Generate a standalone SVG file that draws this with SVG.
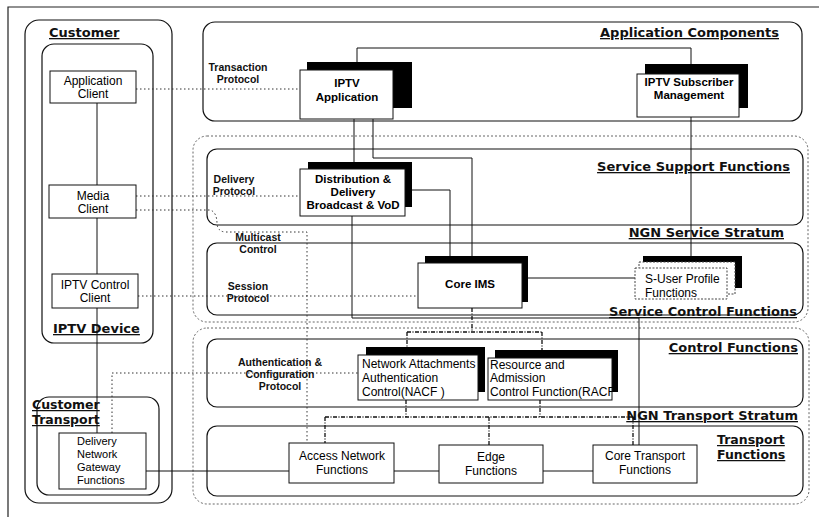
<svg xmlns="http://www.w3.org/2000/svg" width="819" height="517" viewBox="0 0 819 517">
<style>
.region{fill:none;stroke:#111;stroke-width:1.2}
.stratum{fill:none;stroke:#666;stroke-width:1;stroke-dasharray:2 2}
.title{font-family:"DejaVu Sans",Verdana,sans-serif;font-weight:bold;font-size:13px;text-decoration:underline;fill:#111}
.lbl{font-family:"Liberation Sans",Arial,sans-serif;font-weight:bold;font-size:10.5px;text-anchor:middle;fill:#111}
.box{fill:#fff;stroke:#111;stroke-width:1}
.dbox{fill:#fff;stroke:#444;stroke-width:1;stroke-dasharray:2 1.5}
.shadow{fill:#000}
.nb{font-family:"Liberation Sans",Arial,sans-serif;font-weight:bold;font-size:11.5px;text-anchor:middle;fill:#000}
.nt{font-family:"Liberation Sans",Arial,sans-serif;font-size:12px;fill:#000}
.c{text-anchor:middle}
.solid{fill:none;stroke:#111;stroke-width:1}
.dot{fill:none;stroke:#333;stroke-width:1;stroke-dasharray:1.5 2.5}
.ctl{fill:none;stroke:#111;stroke-width:1.3;stroke-dasharray:4 1.5 1 1.5}
</style>

<g id="frame">
  <path d="M8,517 V7 H819" fill="none" stroke="#222" stroke-width="1.2"/>
</g>

<g id="regions">
  <rect id="customer" class="region" x="25" y="20" width="147" height="483" rx="14"/>
  <text class="title" x="49" y="37">Customer</text>
  <rect id="iptv-device" class="region" x="42" y="44" width="111" height="299" rx="12"/>
  <text class="title" x="53" y="333">IPTV Device</text>
  <rect id="customer-transport" class="region" x="37" y="397" width="122" height="98" rx="12"/>
  <text class="title" x="32" y="409" style="font-size:12.5px">Customer</text>
  <text class="title" x="32" y="424" style="font-size:12.5px">Transport</text>

  <rect id="application-components" class="region" x="203" y="22" width="599" height="99" rx="12"/>
  <text class="title" x="779" y="37" text-anchor="end">Application Components</text>

  <rect id="ngn-service-stratum" class="stratum" x="193" y="136" width="615" height="186" rx="14"/>
  <rect id="service-support" class="region" x="207" y="149" width="596" height="76" rx="10"/>
  <text class="title" x="790" y="171" text-anchor="end">Service Support Functions</text>
  <text class="title" x="784" y="237" text-anchor="end">NGN Service Stratum</text>
  <rect id="service-control" class="region" x="207" y="243" width="596" height="72" rx="10"/>
  <text class="title" x="797" y="316" text-anchor="end">Service Control Functions</text>

  <rect id="ngn-transport-stratum" class="stratum" x="193" y="328" width="616" height="176" rx="14"/>
  <rect id="control-functions" class="region" x="207" y="339" width="596" height="68" rx="10"/>
  <text class="title" x="798" y="352" text-anchor="end">Control Functions</text>
  <text class="title" x="798" y="420" text-anchor="end">NGN Transport Stratum</text>
  <rect id="transport-functions" class="region" x="207" y="426" width="596" height="70" rx="10"/>
  <text class="title" x="717" y="444" style="font-size:12.5px">Transport</text>
  <text class="title" x="717" y="459" style="font-size:12.5px">Functions</text>
</g>

<g id="connectors">
  <path class="solid" d="M97,103 V185"/>
  <path class="solid" d="M97,218 V274"/>
  <path class="solid" d="M97,308 V433"/>
  <path class="solid" d="M146,471 H289"/>
  <path class="solid" d="M394,471 H439"/>
  <path class="solid" d="M543,471 H593"/>
  <path class="solid" d="M357,62 V48 H691 V64"/>
  <path class="solid" d="M691,117 V257"/>
  <path class="solid" d="M354,119 V162"/>
  <path class="solid" d="M373,119 V158 H472 V256"/>
  <path class="solid" d="M412,190 H450 V256"/>
  <path class="solid" d="M352,216 V318 H639 V445"/>
  <path class="solid" d="M528,278 H635"/>

  <path class="dot" d="M136,89 H300"/>
  <path class="dot" d="M136,196 H300"/>
  <path class="dot" d="M136,210 H210 Q217,212 217,224 Q218,232 226,232 H307 V443"/>
  <path class="dot" d="M138,296 H418"/>
  <path class="dot" d="M112,433 V373 H358"/>

  <path class="ctl" d="M472,308 V332 M407,332 H542 M407,332 V347 M542,332 V350"/>
  <path class="ctl" d="M406,400 V417 M540,400 V417 M325,417 H633 M325,417 V443 M489,417 V445 M633,417 V445"/>

  <text class="lbl" x="238" y="71">Transaction</text>
  <text class="lbl" x="238" y="83">Protocol</text>
  <text class="lbl" x="234" y="183">Delivery</text>
  <text class="lbl" x="234" y="195">Protocol</text>
  <text class="lbl" x="258" y="241">Multicast</text>
  <text class="lbl" x="258" y="253">Control</text>
  <text class="lbl" x="248" y="290">Session</text>
  <text class="lbl" x="248" y="302">Protocol</text>
  <text class="lbl" x="280" y="366">Authentication &amp;</text>
  <text class="lbl" x="280" y="378">Configuration</text>
  <text class="lbl" x="280" y="390">Protocol</text>
</g>

<g id="nodes">
  <g id="application-client">
    <rect class="box" x="50" y="71" width="86" height="32"/>
    <text class="nt c" x="93" y="85">Application</text>
    <text class="nt c" x="93" y="98">Client</text>
  </g>
  <g id="media-client">
    <rect class="box" x="49" y="185" width="87" height="33"/>
    <text class="nt c" x="93" y="200">Media</text>
    <text class="nt c" x="93" y="213">Client</text>
  </g>
  <g id="iptv-control-client">
    <rect class="box" x="52" y="274" width="86" height="34"/>
    <text class="nt c" x="95" y="289">IPTV Control</text>
    <text class="nt c" x="95" y="302">Client</text>
  </g>
  <g id="delivery-network-gateway">
    <rect class="box" x="59" y="433" width="87" height="56"/>
    <text class="nt" x="77" y="445" style="font-size:11px">Delivery</text>
    <text class="nt" x="77" y="458" style="font-size:11px">Network</text>
    <text class="nt" x="77" y="471" style="font-size:11px">Gateway</text>
    <text class="nt" x="77" y="484" style="font-size:11px">Functions</text>
  </g>
  <g id="iptv-application">
    <rect class="shadow" x="307" y="62" width="105" height="46"/>
    <rect class="box" x="300" y="70" width="93" height="49"/>
    <text class="nb" x="347" y="87">IPTV</text>
    <text class="nb" x="347" y="101">Application</text>
  </g>
  <g id="iptv-subscriber-management">
    <rect class="shadow" x="645" y="64" width="103" height="44"/>
    <rect class="box" x="637" y="74" width="102" height="43"/>
    <text class="nb" x="689" y="86">IPTV Subscriber</text>
    <text class="nb" x="689" y="99">Management</text>
  </g>
  <g id="distribution-delivery">
    <rect class="shadow" x="308" y="162" width="104" height="45"/>
    <rect class="box" x="300" y="169" width="105" height="47"/>
    <text class="nb" x="353" y="183">Distribution &amp;</text>
    <text class="nb" x="353" y="196">Delivery</text>
    <text class="nb" x="353" y="209">Broadcast &amp; VoD</text>
  </g>
  <g id="core-ims">
    <rect class="shadow" x="425" y="256" width="103" height="46"/>
    <rect class="box" x="418" y="263" width="104" height="45"/>
    <text class="nb" x="470" y="288">Core IMS</text>
  </g>
  <g id="s-user-profile">
    <rect class="shadow" x="643" y="256" width="99" height="32"/>
    <rect class="dbox" x="639" y="262" width="96" height="32"/>
    <rect class="dbox" x="635" y="268" width="92" height="31"/>
    <text class="nt" x="645" y="283">S-User Profile</text>
    <text class="nt" x="645" y="297">Functions</text>
  </g>
  <g id="nacf">
    <rect class="shadow" x="366" y="347" width="119" height="45"/>
    <rect class="box" x="358" y="355" width="120" height="45"/>
    <text class="nt" x="362" y="368">Network Attachments</text>
    <text class="nt" x="362" y="382">Authentication</text>
    <text class="nt" x="362" y="396">Control(NACF )</text>
  </g>
  <g id="racf">
    <rect class="shadow" x="495" y="350" width="123" height="42"/>
    <rect class="box" x="488" y="358" width="124" height="42"/>
    <text class="nt" x="490" y="369">Resource and</text>
    <text class="nt" x="490" y="382">Admission</text>
    <text class="nt" x="490" y="396">Control Function(RACF</text>
  </g>
  <g id="access-network">
    <rect class="box" x="289" y="443" width="105" height="40"/>
    <text class="nt c" x="342" y="460">Access Network</text>
    <text class="nt c" x="342" y="474">Functions</text>
  </g>
  <g id="edge-functions">
    <rect class="box" x="439" y="445" width="104" height="38"/>
    <text class="nt c" x="491" y="461">Edge</text>
    <text class="nt c" x="491" y="475">Functions</text>
  </g>
  <g id="core-transport">
    <rect class="box" x="593" y="445" width="104" height="38"/>
    <text class="nt c" x="645" y="460">Core Transport</text>
    <text class="nt c" x="645" y="474">Functions</text>
  </g>
</g>
</svg>
